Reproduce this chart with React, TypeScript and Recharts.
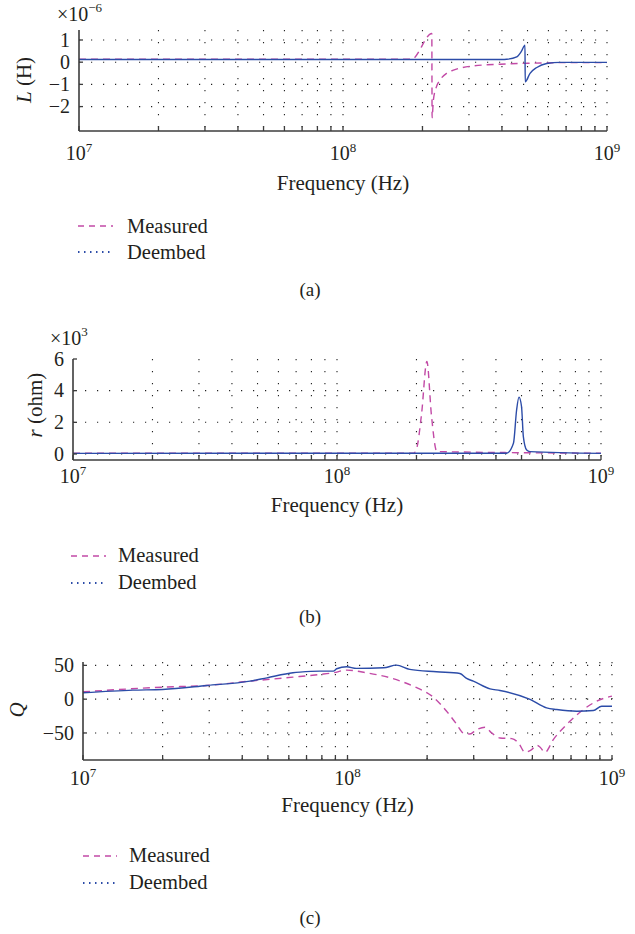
import React from "react";
import {
  CartesianGrid,
  Customized,
  Legend,
  Line,
  LineChart,
  XAxis,
  YAxis,
} from "recharts";

const FONT = "'Liberation Serif', 'Times New Roman', serif";
const INK = "#231f20";
const AXIS = "#3c3c3c";
const MEAS = "#c24aa6";
const DEEM = "#2c4ca8";

const FREQ_TICKS = [
  1e7, 2e7, 3e7, 4e7, 5e7, 6e7, 7e7, 8e7, 9e7,
  1e8, 2e8, 3e8, 4e8, 5e8, 6e8, 7e8, 8e8, 9e8, 1e9,
];
const SERIES_NAMES = ["Measured", "Deembed"];

// (a) inductance, units of 1e-6 H
const L_MEAS_F = [1e7, 1.82e8, 2.17e8, 2.175e8, 2.2e8, 2.26e8, 2.33e8, 2.47e8, 2.62e8, 3.1e8, 3.94e8, 4.98e8, 7.05e8, 1e9];
const L_MEAS_V = [0.14, 0.14, 1.29, -2.5, -1.7, -1.1, -0.8, -0.5, -0.36, -0.17, -0.09, -0.05, -0.02, -0.02];
const L_DEEM_F = [1e7, 4.0e8, 4.17e8, 4.55e8, 4.75e8, 4.89e8, 4.9e8, 5.11e8, 5.42e8, 5.91e8, 6.64e8, 1e9];
const L_DEEM_V = [0.12, 0.12, 0.13, 0.24, 0.51, 0.77, -0.88, -0.5, -0.24, -0.06, -0.01, -0.01];
const L_TICKS = [-2, -1, 0, 1];

// (b) resistance, units of 1e3 ohm
const R_MEAS_F = [1e7, 1.95e8, 2.0e8, 2.09e8, 2.19e8, 2.28e8, 2.39e8, 1e9];
const R_MEAS_V = [0.05, 0.05, 0.3, 2.5, 5.84, 2.4, 0.15, 0.05];
const R_DEEM_F = [1e7, 4.39e8, 4.66e8, 4.79e8, 4.89e8, 5.0e8, 5.08e8, 5.23e8, 5.38e8, 1e9];
const R_DEEM_V = [0.04, 0.05, 0.68, 2.78, 3.59, 3.0, 1.1, 0.25, 0.15, 0.04];
const R_TICKS = [0, 2, 4, 6];
const R_GRID = [0, 2, 4];

// (c) quality factor
const Q_MEAS_F = [1e7, 2.0e7, 2.94e7, 4.28e7, 6.22e7, 7.87e7, 8.84e7, 9.93e7, 1.18e8, 1.45e8, 1.77e8, 2.11e8, 2.37e8, 2.59e8, 2.74e8, 2.9e8, 3.08e8, 3.31e8, 3.51e8, 3.77e8, 4.18e8, 4.43e8, 4.69e8, 4.97e8, 5.19e8, 5.35e8, 5.58e8, 6.0e8, 6.74e8, 7.8e8, 8.75e8, 1e9];
const Q_MEAS_V = [10.9, 17.8, 20.3, 26.7, 32.6, 36.6, 39, 43, 39, 31.6, 19.3, 3, -17.8, -37.5, -50, -51.5, -45, -41.5, -50, -57.4, -58.3, -64.8, -78.6, -74.6, -68.2, -71.2, -78.6, -59.8, -37.5, -15.3, -3, 4.5];
const Q_DEEM_F = [1e7, 1.545e7, 2.0e7, 2.94e7, 4.28e7, 4.96e7, 6.22e7, 6.61e7, 7.87e7, 8.84e7, 9.1e7, 9.93e7, 1.08e8, 1.37e8, 1.53e8, 1.72e8, 2.17e8, 2.66e8, 2.82e8, 2.99e8, 3.46e8, 3.77e8, 4.9e8, 5.66e8, 6.18e8, 7.36e8, 8.5e8, 9.14e8, 1e9];
const Q_DEEM_V = [9.4, 13.4, 14.4, 20.3, 26.7, 31.6, 39, 40, 41.5, 41.5, 45, 48, 45.5, 46.4, 50.4, 44, 40.5, 38, 30.7, 26.7, 15.3, 12.9, -0.4, -12.9, -15.3, -17.8, -16.8, -10.4, -10.4];
const Q_TICKS = [-50, 0, 50];

type Row = { f: number; v: number };
const toRows = (f: number[], v: number[]): Row[] =>
  f.map((x, i) => ({ f: x, v: v[i] }));

type Margin = { top: number; right: number; bottom: number; left: number };

type PanelCfg = {
  top: number;
  height: number;
  margin: Margin;
  yDomain: [number, number];
  yTicks: number[];
  gridY: number[];
  meas: Row[];
  deem: Row[];
  xLabelDy: number;
  titleY: number;
  yTitle: React.ReactNode;
  yTitleX: number;
  yTitleY: number;
  exponent?: { text: string; x: number; y: number };
  legend: { top: number; left: number; lineW: number; gap: number; rowH: number };
  caption: string;
  captionY: number;
};

const W = 635;

function fmtY(v: number) {
  return v < 0 ? `\u2212${Math.abs(v)}` : String(v);
}

function makeXTick(dy: number) {
  return function XTick(props: any) {
    const { x, y, payload } = props;
    const v = payload.value as number;
    const exp = Math.round(Math.log10(v));
    const decade = Math.abs(v / Math.pow(10, exp) - 1) < 1e-6;
    return (
      <g>
        <line x1={x} x2={x} y1={y} y2={y - 5} stroke={AXIS} strokeWidth={1.3} />
        {decade && (
          <text
            x={x}
            y={y + dy}
            textAnchor="middle"
            fontFamily={FONT}
            fontSize={20}
            fill={INK}
          >
            10
            <tspan dy={-8} fontSize={13}>
              {exp}
            </tspan>
          </text>
        )}
      </g>
    );
  };
}

function YTick(props: any) {
  const { x, y, payload } = props;
  return (
    <g>
      <line x1={x} x2={x + 4} y1={y} y2={y} stroke={AXIS} strokeWidth={1.3} />
      <text
        x={x - 9}
        y={y}
        dy="0.34em"
        textAnchor="end"
        fontFamily={FONT}
        fontSize={20}
        fill={INK}
      >
        {fmtY(payload.value)}
      </text>
    </g>
  );
}

function Panel({ cfg }: { cfg: PanelCfg }) {
  const m = cfg.margin;
  const plotCx = m.left + (W - m.left - m.right) / 2;
  // axes need a non-zero size to be drawn; take 1px out of the margins
  const chartMargin = { ...m, left: m.left - 1, bottom: m.bottom - 1 };

  const renderLegend = (p: any) => {
    const items = [...(p.payload ?? [])].sort(
      (a: any, b: any) => SERIES_NAMES.indexOf(a.value) - SERIES_NAMES.indexOf(b.value),
    );
    return (
      <div style={{ fontFamily: FONT, fontSize: 20.5, color: INK }}>
        {items.map((it: any) => {
          const isMeas = it.value === "Measured";
          return (
            <div
              key={it.value}
              style={{ display: "flex", alignItems: "center", height: cfg.legend.rowH }}
            >
              <svg width={cfg.legend.lineW} height={6} style={{ marginRight: cfg.legend.gap }}>
                <line
                  x1={0}
                  x2={cfg.legend.lineW}
                  y1={3}
                  y2={3}
                  stroke={isMeas ? MEAS : DEEM}
                  strokeWidth={isMeas ? 1.4 : 1.8}
                  strokeDasharray={isMeas ? "6 5" : "1.5 4.5"}
                />
              </svg>
              <span>{it.value}</span>
            </div>
          );
        })}
      </div>
    );
  };

  return (
    <div style={{ position: "absolute", left: 0, top: cfg.top }}>
      <LineChart width={W} height={cfg.height} margin={chartMargin}>
        <CartesianGrid
          stroke="#222"
          strokeWidth={1.1}
          strokeDasharray="1.2 10.8"
          horizontalValues={cfg.gridY}
          verticalValues={FREQ_TICKS.slice(1)}
        />
        <XAxis
          type="number"
          dataKey="f"
          scale="log"
          domain={[1e7, 1e9]}
          ticks={FREQ_TICKS}
          interval={0}
          allowDataOverflow
          height={1}
          tickSize={0}
          tickMargin={0}
          tickLine={false}
          axisLine={{ stroke: AXIS, strokeWidth: 1.6 }}
          tick={makeXTick(cfg.xLabelDy)}
        />
        <YAxis
          type="number"
          domain={cfg.yDomain}
          ticks={cfg.yTicks}
          interval={0}
          allowDataOverflow
          width={1}
          tickSize={0}
          tickMargin={0}
          tickLine={false}
          axisLine={{ stroke: AXIS, strokeWidth: 1.6 }}
          tick={YTick}
        />
        <Line
          data={cfg.meas}
          dataKey="v"
          name="Measured"
          type="monotone"
          stroke={MEAS}
          strokeWidth={1.4}
          strokeDasharray="7 5"
          dot={false}
          activeDot={false}
          isAnimationActive={false}
        />
        <Line
          data={cfg.deem}
          dataKey="v"
          name="Deembed"
          type="monotone"
          stroke={DEEM}
          strokeWidth={1.4}
          dot={false}
          activeDot={false}
          isAnimationActive={false}
        />
        <Legend
          layout="vertical"
          align="center"
          verticalAlign="middle"
          content={renderLegend}
          wrapperStyle={{ left: cfg.legend.left, top: cfg.legend.top, width: "auto" }}
        />
        <Customized
          component={() => (
            <g fontFamily={FONT} fill={INK}>
              <text x={plotCx} y={cfg.titleY} textAnchor="middle" fontSize={21}>
                Frequency (Hz)
              </text>
              <text
                x={cfg.yTitleX}
                y={cfg.yTitleY}
                textAnchor="middle"
                dy="0.34em"
                fontSize={21}
                transform={`rotate(-90, ${cfg.yTitleX}, ${cfg.yTitleY})`}
              >
                {cfg.yTitle}
              </text>
              {cfg.exponent && (
                <text x={cfg.exponent.x} y={cfg.exponent.y} fontSize={20}>
                  ×10
                  <tspan dy={-9} fontSize={13}>
                    {cfg.exponent.text}
                  </tspan>
                </text>
              )}
              <text x={310} y={cfg.captionY} textAnchor="middle" fontSize={19}>
                {cfg.caption}
              </text>
            </g>
          )}
        />
      </LineChart>
    </div>
  );
}

const PANELS: PanelCfg[] = [
  {
    top: 0,
    height: 310,
    margin: { top: 30, right: 28, bottom: 179, left: 79 },
    yDomain: [-3.1, 1.45],
    yTicks: L_TICKS,
    gridY: L_TICKS,
    meas: toRows(L_MEAS_F, L_MEAS_V),
    deem: toRows(L_DEEM_F, L_DEEM_V),
    xLabelDy: 29,
    titleY: 190,
    yTitle: (
      <>
        <tspan fontStyle="italic">L</tspan> (H)
      </>
    ),
    yTitleX: 24,
    yTitleY: 80,
    exponent: { text: "\u22126", x: 57, y: 21 },
    legend: { top: 213, left: 78, lineW: 35, gap: 14, rowH: 26 },
    caption: "(a)",
    captionY: 296,
  },
  {
    top: 310,
    height: 320,
    margin: { top: 49, right: 34, bottom: 170, left: 73 },
    yDomain: [-0.38, 6],
    yTicks: R_TICKS,
    gridY: R_GRID,
    meas: toRows(R_MEAS_F, R_MEAS_V),
    deem: toRows(R_DEEM_F, R_DEEM_V),
    xLabelDy: 23,
    titleY: 202,
    yTitle: (
      <>
        <tspan fontStyle="italic">r</tspan> (ohm)
      </>
    ),
    yTitleX: 35,
    yTitleY: 95,
    exponent: { text: "3", x: 50, y: 35 },
    legend: { top: 232, left: 71, lineW: 35, gap: 12, rowH: 27 },
    caption: "(b)",
    captionY: 313,
  },
  {
    top: 630,
    height: 304,
    margin: { top: 32, right: 23, bottom: 174, left: 83 },
    yDomain: [-90, 55],
    yTicks: Q_TICKS,
    gridY: Q_TICKS,
    meas: toRows(Q_MEAS_F, Q_MEAS_V),
    deem: toRows(Q_DEEM_F, Q_DEEM_V),
    xLabelDy: 25,
    titleY: 182,
    yTitle: <tspan fontStyle="italic">Q</tspan>,
    yTitleX: 17,
    yTitleY: 80,
    legend: { top: 212, left: 83, lineW: 34, gap: 12, rowH: 27 },
    caption: "(c)",
    captionY: 294,
  },
];

export default function App() {
  return (
    <div
      style={{
        position: "absolute",
        left: 0,
        top: 0,
        width: W,
        height: 934,
        background: "#fff",
        overflow: "hidden",
      }}
    >
      {PANELS.map((p) => (
        <Panel key={p.caption} cfg={p} />
      ))}
    </div>
  );
}
